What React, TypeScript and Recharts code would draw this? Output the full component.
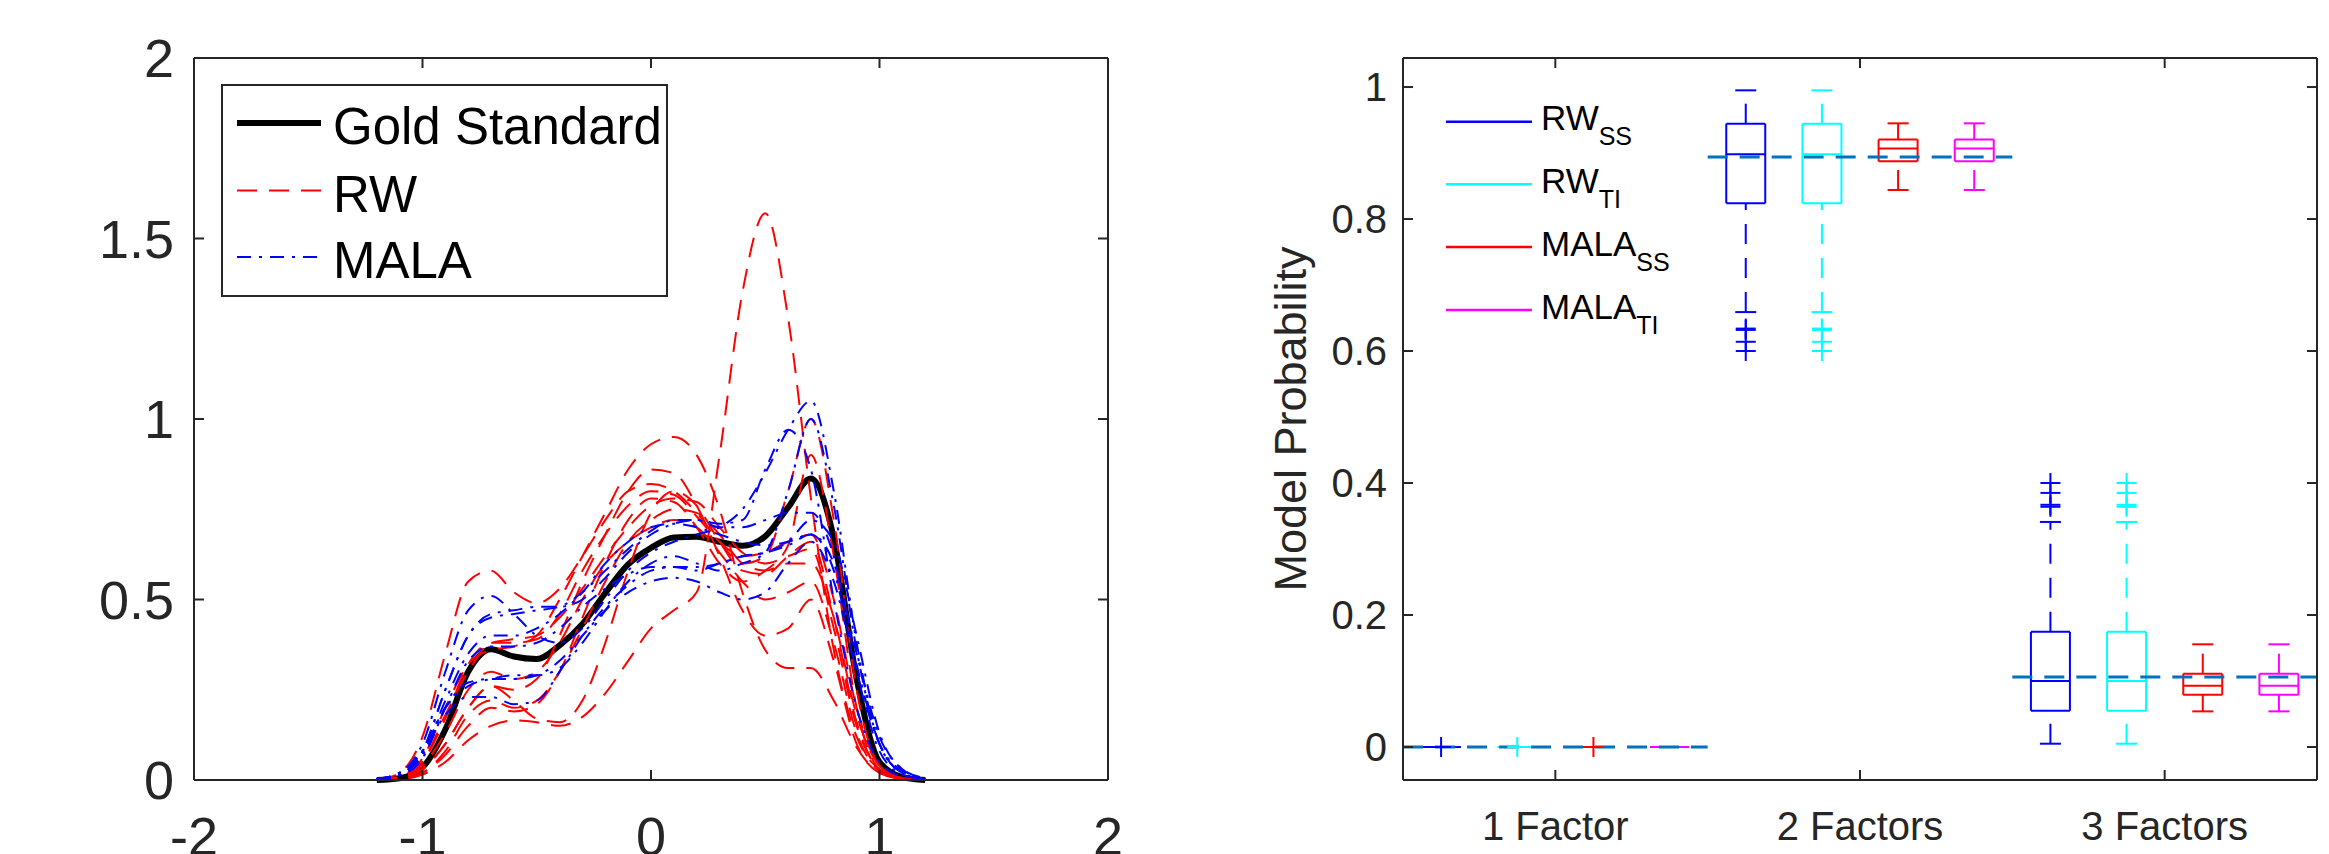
import React from "react";
import { LineChart, Line, XAxis, YAxis, ComposedChart, Scatter, ReferenceLine, Label } from "recharts";

const FONT = "'Liberation Sans', Arial, Helvetica, sans-serif";
const INK = "#262626";

// ---- left panel: density estimates ----
const xGrid = [-1.2, -1.1, -1, -0.9, -0.8, -0.7, -0.6, -0.5, -0.4, -0.3, -0.2, -0.1, 0, 0.1, 0.2, 0.3, 0.4, 0.5, 0.6, 0.7, 0.8, 0.9, 1, 1.1, 1.2];
const xTicks = [-2, -1, 0, 1, 2];
const densityTicks = [0, 0.5, 1, 1.5, 2];

const goldStandard = [0, 0.005, 0.035, 0.14, 0.3, 0.362, 0.342, 0.335, 0.373, 0.432, 0.518, 0.597, 0.643, 0.672, 0.674, 0.66, 0.649, 0.675, 0.755, 0.835, 0.67, 0.28, 0.05, 0.008, 0];

const rwRuns = [
  [0, 0.002, 0.015, 0.05, 0.11, 0.15, 0.165, 0.16, 0.15, 0.175, 0.24, 0.33, 0.42, 0.47, 0.52, 0.9, 1.35, 1.57, 1.28, 0.78, 0.36, 0.12, 0.03, 0.005, 0],
  [0, 0.01, 0.06, 0.2, 0.32, 0.36, 0.37, 0.4, 0.5, 0.62, 0.74, 0.86, 0.93, 0.95, 0.9, 0.75, 0.52, 0.36, 0.31, 0.31, 0.22, 0.09, 0.02, 0.003, 0],
  [0, 0.005, 0.03, 0.1, 0.2, 0.26, 0.25, 0.28, 0.4, 0.55, 0.68, 0.8, 0.86, 0.85, 0.76, 0.62, 0.47, 0.4, 0.42, 0.5, 0.33, 0.1, 0.02, 0.003, 0],
  [0, 0.02, 0.12, 0.35, 0.55, 0.58, 0.52, 0.49, 0.53, 0.62, 0.72, 0.8, 0.82, 0.8, 0.74, 0.66, 0.6, 0.62, 0.8, 1.0, 0.72, 0.25, 0.04, 0.005, 0],
  [0, 0.008, 0.05, 0.18, 0.3, 0.38, 0.39, 0.4, 0.45, 0.53, 0.62, 0.7, 0.76, 0.78, 0.77, 0.7, 0.63, 0.6, 0.62, 0.64, 0.42, 0.15, 0.03, 0.004, 0],
  [0, 0.004, 0.03, 0.1, 0.2, 0.26, 0.22, 0.17, 0.16, 0.22, 0.38, 0.58, 0.74, 0.8, 0.76, 0.66, 0.58, 0.57, 0.62, 0.66, 0.45, 0.16, 0.03, 0.004, 0],
  [0, 0.003, 0.02, 0.08, 0.18, 0.22, 0.2, 0.22, 0.3, 0.42, 0.55, 0.66, 0.72, 0.75, 0.74, 0.68, 0.6, 0.58, 0.6, 0.6, 0.45, 0.18, 0.04, 0.005, 0],
  [0, 0.006, 0.05, 0.17, 0.32, 0.38, 0.38, 0.39, 0.46, 0.58, 0.68, 0.76, 0.8, 0.79, 0.73, 0.66, 0.62, 0.63, 0.66, 0.68, 0.5, 0.2, 0.04, 0.005, 0],
  [0, 0.003, 0.02, 0.07, 0.15, 0.2, 0.19, 0.21, 0.3, 0.45, 0.6, 0.72, 0.78, 0.77, 0.7, 0.6, 0.55, 0.58, 0.65, 0.9, 0.62, 0.2, 0.03, 0.003, 0],
  [0, 0.005, 0.04, 0.13, 0.25, 0.3, 0.28, 0.3, 0.38, 0.5, 0.6, 0.66, 0.7, 0.72, 0.7, 0.63, 0.55, 0.5, 0.52, 0.55, 0.38, 0.13, 0.025, 0.003, 0],
];

const malaRuns = [
  [0.003, 0.02, 0.1, 0.3, 0.47, 0.51, 0.46, 0.4, 0.38, 0.42, 0.5, 0.58, 0.63, 0.66, 0.68, 0.7, 0.75, 0.85, 0.97, 1.05, 0.8, 0.38, 0.1, 0.02, 0.003],
  [0.002, 0.015, 0.08, 0.25, 0.4, 0.46, 0.47, 0.48, 0.48, 0.5, 0.56, 0.63, 0.68, 0.71, 0.72, 0.71, 0.72, 0.86, 0.97, 0.86, 0.5, 0.2, 0.05, 0.01, 0.002],
  [0.002, 0.015, 0.07, 0.2, 0.27, 0.28, 0.28, 0.29, 0.33, 0.4, 0.47, 0.52, 0.55, 0.56, 0.55, 0.52, 0.5, 0.52, 0.6, 0.66, 0.55, 0.3, 0.1, 0.025, 0.004],
  [0.003, 0.02, 0.08, 0.18, 0.23, 0.23, 0.21, 0.22, 0.3, 0.4, 0.48, 0.54, 0.58, 0.59, 0.58, 0.6, 0.62, 0.63, 0.65, 0.68, 0.6, 0.35, 0.12, 0.03, 0.004],
  [0.002, 0.015, 0.08, 0.25, 0.4, 0.45, 0.46, 0.47, 0.48, 0.52, 0.58, 0.64, 0.69, 0.72, 0.72, 0.7, 0.7, 0.72, 0.74, 0.74, 0.62, 0.32, 0.1, 0.02, 0.003],
  [0.002, 0.012, 0.06, 0.2, 0.33, 0.37, 0.37, 0.38, 0.42, 0.48, 0.53, 0.57, 0.59, 0.59, 0.59, 0.6, 0.62, 0.63, 0.66, 0.72, 0.66, 0.4, 0.13, 0.03, 0.005],
  [0.003, 0.02, 0.08, 0.2, 0.26, 0.28, 0.29, 0.29, 0.31, 0.38, 0.47, 0.55, 0.6, 0.62, 0.6, 0.58, 0.6, 0.63, 0.8, 1.0, 0.76, 0.36, 0.1, 0.02, 0.003],
  [0.002, 0.015, 0.07, 0.22, 0.35, 0.4, 0.4, 0.42, 0.46, 0.52, 0.6, 0.66, 0.7, 0.71, 0.7, 0.68, 0.66, 0.65, 0.66, 0.68, 0.58, 0.3, 0.08, 0.015, 0.002],
];

const densityRows = xGrid.map((x, i) => {
  const row: Record<string, number> = { x, gold: goldStandard[i] };
  rwRuns.forEach((r, k) => (row[`rw${k}`] = r[i]));
  malaRuns.forEach((r, k) => (row[`mala${k}`] = r[i]));
  return row;
});

// ---- right panel: model probability box plots ----
const categories = ["1 Factor", "2 Factors", "3 Factors"];
const probTicks = [0, 0.2, 0.4, 0.6, 0.8, 1];
const goldProbability = [0, 0.894, 0.106];

// [lower whisker, q1, median, q3, upper whisker] per category
const rwSSStats = [[0, 0, 0, 0, 0], [0.659, 0.824, 0.898, 0.9445, 0.995], [0.005, 0.055, 0.1, 0.1745, 0.341]];
const rwTIStats = [[0, 0, 0, 0, 0], [0.659, 0.824, 0.898, 0.9445, 0.995], [0.005, 0.055, 0.1, 0.1745, 0.341]];
const malaSSStats = [[0, 0, 0, 0, 0], [0.844, 0.8875, 0.907, 0.9206, 0.945], [0.054, 0.079, 0.093, 0.111, 0.1556]];
const malaTIStats = [[0, 0, 0, 0, 0], [0.844, 0.8875, 0.907, 0.9206, 0.945], [0.054, 0.079, 0.093, 0.111, 0.1556]];

const rwSSOutliers = [[0], [0.634, 0.632, 0.614, 0.6], [0.4, 0.385, 0.367, 0.364]];
const rwTIOutliers = [[0], [0.634, 0.632, 0.614, 0.6], [0.4, 0.385, 0.367, 0.364]];
const malaSSOutliers = [[0], [], []];
const malaTIOutliers = [[], [], []];

const methods = [
  { name: "RW", sub: "SS", color: "#0000FF", offset: -0.375, stats: rwSSStats, outliers: rwSSOutliers },
  { name: "RW", sub: "TI", color: "#00FFFF", offset: -0.125, stats: rwTIStats, outliers: rwTIOutliers },
  { name: "MALA", sub: "SS", color: "#FF0000", offset: 0.125, stats: malaSSStats, outliers: malaSSOutliers },
  { name: "MALA", sub: "TI", color: "#FF00FF", offset: 0.375, stats: malaTIStats, outliers: malaTIOutliers },
];

const HALF_BOX = 0.064;
const HALF_CAP = 0.0345;
const PLOT_W = 914;
const PLOT_H = 722;

const axisLine = { stroke: INK, strokeWidth: 2 };

// bottom axis tick: inward marks on the bottom and top frame + label
const xTick = (fontSize: number, baselineOffset: number, format: (v: number) => string) => (p: any) => (
  <g>
    <line x1={p.x} x2={p.x} y1={p.y} y2={p.y - 10} stroke={INK} strokeWidth={2} />
    <line x1={p.x} x2={p.x} y1={p.y - PLOT_H} y2={p.y - PLOT_H + 10} stroke={INK} strokeWidth={2} />
    <text x={p.x} y={p.y + baselineOffset} textAnchor="middle" fontSize={fontSize} fontFamily={FONT} fill={INK}>
      {format(p.payload.value)}
    </text>
  </g>
);

// left axis tick: inward marks on the left and right frame + label
const yTick = (fontSize: number, gap: number) => (p: any) => (
  <g>
    <line x1={p.x} x2={p.x + 10} y1={p.y} y2={p.y} stroke={INK} strokeWidth={2} />
    <line x1={p.x + PLOT_W - 10} x2={p.x + PLOT_W} y1={p.y} y2={p.y} stroke={INK} strokeWidth={2} />
    <text x={p.x - gap} y={p.y} dy="0.36em" textAnchor="end" fontSize={fontSize} fontFamily={FONT} fill={INK}>
      {String(p.payload.value)}
    </text>
  </g>
);

function boxLines(m: (typeof methods)[number], mi: number) {
  const out: React.ReactNode[] = [];
  m.stats.forEach(([lo, q1, med, q3, hi], c) => {
    const cx = c + 1 + m.offset;
    const seg = (k: string, x1: number, y1: number, x2: number, y2: number, dash?: string) =>
      out.push(
        <ReferenceLine
          key={`b${mi}-${c}-${k}`}
          segment={[{ x: x1, y: y1 }, { x: x2, y: y2 }]}
          stroke={m.color}
          strokeWidth={2}
          strokeDasharray={dash}
          ifOverflow="visible"
        />
      );
    seg("wu", cx, q3, cx, hi, "20 14");
    seg("wl", cx, lo, cx, q1, "20 14");
    seg("cu", cx - HALF_CAP, hi, cx + HALF_CAP, hi);
    seg("cl", cx - HALF_CAP, lo, cx + HALF_CAP, lo);
    seg("bt", cx - HALF_BOX, q3, cx + HALF_BOX, q3);
    seg("bb", cx - HALF_BOX, q1, cx + HALF_BOX, q1);
    seg("bl", cx - HALF_BOX, q1, cx - HALF_BOX, q3);
    seg("br", cx + HALF_BOX, q1, cx + HALF_BOX, q3);
    seg("md", cx - HALF_BOX, med, cx + HALF_BOX, med);
  });
  return out;
}

const plusShape = (color: string) => (p: any) => (
  <g>
    <line x1={p.cx - 10} x2={p.cx + 10} y1={p.cy} y2={p.cy} stroke={color} strokeWidth={2} />
    <line x1={p.cx} x2={p.cx} y1={p.cy - 10} y2={p.cy + 10} stroke={color} strokeWidth={2} />
  </g>
);

const renderYTitle = (props: any) => {
  const vb = props.viewBox ?? { x: 0, y: 58, width: 203, height: 722 };
  const x = vb.x + 106;
  const y = vb.y + vb.height / 2;
  return (
    <text x={x} y={y} transform={`rotate(-90 ${x} ${y})`} textAnchor="middle" fill={INK} fontSize={45} fontFamily={FONT}>
      Model Probability
    </text>
  );
};

function DensityPanel() {
  return (
    <div style={{ position: "relative", width: 1150, height: 854 }}>
      <LineChart width={1150} height={854} data={densityRows} margin={{ top: 58, right: 42, bottom: 0, left: 0 }}>
        <XAxis dataKey="x" type="number" domain={[-2, 2]} ticks={xTicks} interval={0} height={74} tickSize={0} tickMargin={0}
          axisLine={axisLine} tickLine={false} tick={xTick(54, 75, (v) => String(v))} />
        <YAxis type="number" domain={[0, 2]} ticks={densityTicks} interval={0} width={194} tickSize={0} tickMargin={0}
          axisLine={axisLine} tickLine={false} tick={yTick(54, 20)} />
        <Line dataKey="gold" type="monotone" stroke="#000000" strokeWidth={6} dot={false} isAnimationActive={false} />
        {rwRuns.map((_, k) => (
          <Line key={`rw${k}`} dataKey={`rw${k}`} type="monotone" stroke="#FF0000" strokeWidth={2} strokeDasharray="20 12" dot={false} isAnimationActive={false} />
        ))}
        {malaRuns.map((_, k) => (
          <Line key={`mala${k}`} dataKey={`mala${k}`} type="monotone" stroke="#0000FF" strokeWidth={2} strokeDasharray="14 8 3 8" dot={false} isAnimationActive={false} />
        ))}
        <ReferenceLine y={2} stroke={INK} strokeWidth={2} ifOverflow="visible" />
        <ReferenceLine x={2} stroke={INK} strokeWidth={2} ifOverflow="visible" />
      </LineChart>
      <svg width={1150} height={854} style={{ position: "absolute", left: 0, top: 0, pointerEvents: "none" }}>
        <rect x={222} y={85} width={445} height={211} fill="#fff" stroke={INK} strokeWidth={2} />
        <line x1={237} x2={321} y1={123} y2={123} stroke="#000" strokeWidth={6} />
        <line x1={237} x2={321} y1={190.5} y2={190.5} stroke="#FF0000" strokeWidth={2} strokeDasharray="20 12" />
        <line x1={237} x2={321} y1={257} y2={257} stroke="#0000FF" strokeWidth={2} strokeDasharray="14 8 3 8" />
        <text x={333} y={144} fontSize={51} fontFamily={FONT} fill="#000">Gold Standard</text>
        <text x={333} y={211.5} fontSize={51} fontFamily={FONT} fill="#000">RW</text>
        <text x={333} y={278} fontSize={51} fontFamily={FONT} fill="#000">MALA</text>
      </svg>
    </div>
  );
}

function BoxPanel() {
  const legendRows = [121.7, 184.3, 247, 310];
  return (
    <div style={{ position: "relative", width: 1129, height: 854 }}>
      <ComposedChart width={1129} height={854} margin={{ top: 58, right: 12, bottom: 0, left: 0 }}>
        <XAxis dataKey="x" type="number" domain={[0.5, 3.5]} ticks={[1, 2, 3]} interval={0} height={74} tickSize={0} tickMargin={0}
          axisLine={axisLine} tickLine={false} tick={xTick(40, 60, (v) => categories[v - 1])} />
        <YAxis dataKey="y" type="number" domain={[-0.05, 1.044]} ticks={probTicks} interval={0} width={203} tickSize={0} tickMargin={0}
          axisLine={axisLine} tickLine={false} tick={yTick(40, 16)}>
          <Label content={renderYTitle} />
        </YAxis>
        {methods.map((m, mi) => boxLines(m, mi))}
        {methods.map((m, mi) => (
          <Scatter
            key={`out${mi}`}
            data={m.outliers.flatMap((vals, c) => vals.map((y) => ({ x: c + 1 + m.offset, y })))}
            shape={plusShape(m.color)}
            isAnimationActive={false}
          />
        ))}
        {goldProbability.map((g, c) => (
          <ReferenceLine
            key={`gold${c}`}
            segment={[{ x: c + 0.5, y: g }, { x: c + 1.5, y: g }]}
            stroke="#0072BD"
            strokeWidth={3}
            strokeDasharray="20 12"
            ifOverflow="visible"
          />
        ))}
        <ReferenceLine y={1.044} stroke={INK} strokeWidth={2} ifOverflow="visible" />
        <ReferenceLine x={3.5} stroke={INK} strokeWidth={2} ifOverflow="visible" />
      </ComposedChart>
      <svg width={1129} height={854} style={{ position: "absolute", left: 0, top: 0, pointerEvents: "none" }}>
        {methods.map((m, i) => (
          <g key={m.name + m.sub}>
            <line x1={246} x2={332} y1={legendRows[i]} y2={legendRows[i]} stroke={m.color} strokeWidth={2.5} />
            <text x={341} y={legendRows[i] + 8.5} fontSize={35} fontFamily={FONT} fill="#000">
              {m.name}
              <tspan fontSize={25} dy={15}>{m.sub}</tspan>
            </text>
          </g>
        ))}
      </svg>
    </div>
  );
}

export default function App() {
  return (
    <div style={{ position: "absolute", left: 0, top: 0, width: 2329, height: 854, background: "#fff", overflow: "hidden", fontFamily: FONT }}>
      <div style={{ position: "absolute", left: 0, top: 0 }}>
        <DensityPanel />
      </div>
      <div style={{ position: "absolute", left: 1200, top: 0 }}>
        <BoxPanel />
      </div>
    </div>
  );
}
